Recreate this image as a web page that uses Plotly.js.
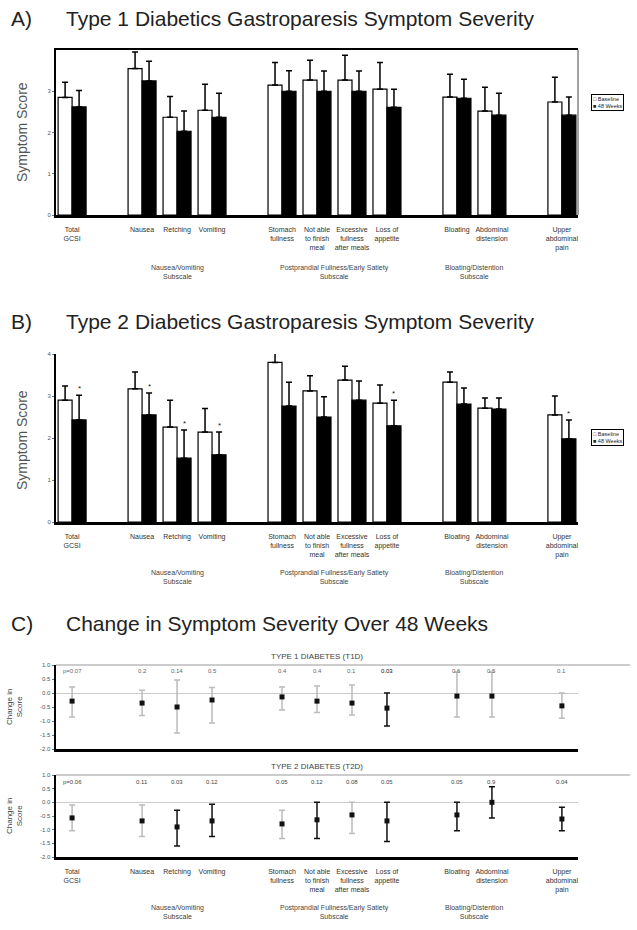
<!DOCTYPE html>
<html><head><meta charset="utf-8">
<script src="https://cdn.plot.ly/plotly-3.0.1.min.js"></script>
<style>html,body{margin:0;padding:0;background:#fff}#chart{width:637px;height:930px}</style>
</head><body><div id="chart"></div>
<script>
// ---------------- DATA ----------------
const categories = ['Total GCSI','Nausea','Retching','Vomiting','Stomach fullness','Not able to finish meal','Excessive fullness','Loss of appetite','Bloating','Abdominal distension','Upper abdominal pain'];
const tickLabels = ['Total<br>GCSI','Nausea','Retching','Vomiting','Stomach<br>fullness','Not able<br>to finish<br>meal','Excessive<br>fullness<br>after meals','Loss of<br>appetite','Bloating','Abdominal<br>distension','Upper<br>abdominal<br>pain'];
// layout slots (blank slots separate the subscale groups)
const slotOrder = ['Total GCSI','gap1','Nausea','Retching','Vomiting','gap2','Stomach fullness','Not able to finish meal','Excessive fullness','Loss of appetite','gap3','Bloating','Abdominal distension','gap4','Upper abdominal pain'];
const groupLabels = ['Nausea/Vomiting<br>Subscale','Postprandial Fullness/Early Satiety<br>Subscale','Bloating/Distention<br>Subscale'];
const seriesNames = ['Baseline','48 Weeks'];

// Panel A: Type 1 diabetics
const t1Baseline    = [2.85, 3.55, 2.37, 2.54, 3.15, 3.27, 3.27, 3.05, 2.86, 2.52, 2.74];
const t1BaselineErr = [0.37, 0.40, 0.50, 0.63, 0.55, 0.48, 0.60, 0.65, 0.55, 0.58, 0.60];
const t1Week48      = [2.62, 3.25, 2.03, 2.37, 3.00, 3.00, 3.00, 2.61, 2.83, 2.42, 2.42];
const t1Week48Err   = [0.40, 0.48, 0.49, 0.58, 0.50, 0.49, 0.49, 0.44, 0.46, 0.53, 0.44];

// Panel B: Type 2 diabetics
const t2Baseline    = [2.90, 3.17, 2.26, 2.14, 3.80, 3.12, 3.38, 2.83, 3.33, 2.71, 2.55];
const t2BaselineErr = [0.34, 0.40, 0.64, 0.56, 0.25, 0.36, 0.33, 0.43, 0.24, 0.24, 0.45];
const t2Week48      = [2.43, 2.55, 1.52, 1.60, 2.76, 2.50, 2.90, 2.29, 2.81, 2.69, 1.98];
const t2Week48Err   = [0.59, 0.52, 0.67, 0.54, 0.57, 0.48, 0.46, 0.61, 0.38, 0.26, 0.45];
const t2Significant = [1, 1, 1, 1, 0, 0, 0, 1, 0, 0, 1];

// Panel C: change over 48 weeks (estimate and interval)
const t1Change   = [-0.29, -0.36, -0.50, -0.25, -0.14, -0.29, -0.36, -0.54, -0.11, -0.11, -0.46];
const t1Low      = [-0.86, -0.80, -1.43, -1.07, -0.61, -0.70, -0.79, -1.18, -0.86, -0.86, -0.90];
const t1High     = [ 0.21,  0.10,  0.46,  0.20,  0.21,  0.25,  0.29,  0.00,  0.75,  0.75,  0.00];
const t1Emphasis = [0, 0, 0, 0, 0, 0, 0, 1, 0, 0, 0];
const t1PValues  = ['p=0.07','0.2','0.14','0.5','0.4','0.4','0.1','0.03','0.6','0.5','0.1'];

const t2Change   = [-0.57, -0.68, -0.90, -0.68, -0.79, -0.64, -0.46, -0.68, -0.46,  0.00, -0.61];
const t2Low      = [-1.04, -1.25, -1.60, -1.25, -1.32, -1.32, -1.14, -1.43, -1.04, -0.57, -1.04];
const t2High     = [-0.10, -0.10, -0.29, -0.07, -0.29,  0.00,  0.00,  0.00,  0.00,  0.57, -0.18];
const t2Emphasis = [0, 0, 1, 1, 0, 1, 0, 1, 1, 1, 1];
const t2PValues  = ['p=0.06','0.11','0.03','0.12','0.05','0.12','0.08','0.05','0.05','0.9','0.04'];

const panelTitles = ['Type 1 Diabetics Gastroparesis Symptom Severity','Type 2 Diabetics Gastroparesis Symptom Severity','Change in Symptom Severity Over 48 Weeks'];
const facetTitles = ['TYPE 1 DIABETES (T1D)','TYPE 2 DIABETES (T2D)'];

// ---------------- BUILD ----------------
const FONT = 'Liberation Sans, Arial, sans-serif';
const zeros = categories.map(() => 0);
const slotText = slotOrder.map(s => { const i = categories.indexOf(s); return i >= 0 ? tickLabels[i] : ''; });

function barTrace(name, vals, err, fill, xa, ya) {
  return {
    type: 'bar', name: name, x: categories, y: vals, xaxis: xa, yaxis: ya, showlegend: false,
    marker: {color: fill, line: {color: '#000', width: 1.2}},
    error_y: {type: 'data', symmetric: false, array: err, arrayminus: zeros, color: '#000', thickness: 1.5, width: 3},
    hoverinfo: 'skip'
  };
}
function changeTrace(vals, lows, highs, flags, want, xa, ya) {
  const idx = categories.map((c, i) => i).filter(i => flags[i] === want);
  return {
    type: 'scatter', mode: 'markers', showlegend: false, xaxis: xa, yaxis: ya,
    x: idx.map(i => categories[i]), y: idx.map(i => vals[i]),
    marker: {symbol: 'square', size: 5, color: '#111'},
    error_y: {type: 'data', symmetric: false,
      array: idx.map(i => highs[i] - vals[i]), arrayminus: idx.map(i => vals[i] - lows[i]),
      color: want ? '#111' : '#bbbbbb', thickness: 1.5, width: 3},
    hoverinfo: 'skip'
  };
}
const traces = [
  barTrace(seriesNames[0], t1Baseline, t1BaselineErr, '#ffffff', 'x', 'y'),
  barTrace(seriesNames[1], t1Week48, t1Week48Err, '#000000', 'x', 'y'),
  barTrace(seriesNames[0], t2Baseline, t2BaselineErr, '#ffffff', 'x2', 'y2'),
  barTrace(seriesNames[1], t2Week48, t2Week48Err, '#000000', 'x2', 'y2'),
  changeTrace(t1Change, t1Low, t1High, t1Emphasis, 0, 'x3', 'y3'),
  changeTrace(t1Change, t1Low, t1High, t1Emphasis, 1, 'x3', 'y3'),
  changeTrace(t2Change, t2Low, t2High, t2Emphasis, 0, 'x4', 'y4'),
  changeTrace(t2Change, t2Low, t2High, t2Emphasis, 1, 'x4', 'y4')
];

const XDOM = [56/637, 578/637];
const py = v => 1 - v/930;
function xAxis(anchor, labels, mirror) {
  return {domain: XDOM, anchor: anchor, type: 'category', categoryarray: slotOrder, tickvals: slotOrder,
    ticktext: labels ? slotText : slotOrder.map(() => ''), showticklabels: labels, range: [-0.46, 14.46],
    showline: true, linewidth: 2.5, linecolor: '#000', mirror: mirror, ticks: '', showgrid: false, zeroline: false,
    ticklabelstandoff: 6,
    tickfont: {size: 7, color: '#333', family: FONT}, fixedrange: true};
}
function yAxis(anchor, dom, range, vals, text) {
  return {domain: dom, anchor: anchor, range: range, tickvals: vals, ticktext: text, showline: true, linewidth: 2, linecolor: '#000',
    ticks: 'outside', ticklen: 2, tickcolor: '#777', showgrid: false, zeroline: false,
    tickfont: {size: 6, color: '#555', family: FONT}, fixedrange: true};
}
const cTicks = [-2, -1.5, -1, -0.5, 0, 0.5, 1];
const cTickText = ['-2.0', '-1.5', '-1.0', '-0.5', '0.0', '0.5', '1.0'];

const ann = [];
function txt(x, y, text, size, opts) {
  ann.push(Object.assign({xref: 'paper', yref: 'paper', x: x, y: y, text: text, showarrow: false,
    font: {size: size, color: '#222', family: FONT}, xanchor: 'left', yanchor: 'middle'}, opts || {}));
}
// panel titles
const TS = 21;
txt(9/637, py(18), 'A)', TS); txt(64/637, py(18), panelTitles[0], TS);
txt(9/637, py(321), 'B)', TS); txt(64/637, py(321), panelTitles[1], TS);
txt(9/637, py(623), 'C)', TS); txt(64/637, py(623), panelTitles[2], TS);
// y titles
txt(22/637, py(132), 'Symptom Score', 14, {textangle: -90, xanchor: 'center', font: {size: 14, color: '#555', family: FONT}});
txt(22/637, py(440), 'Symptom Score', 14, {textangle: -90, xanchor: 'center', font: {size: 14, color: '#555', family: FONT}});
txt(14/637, py(707), 'Change in<br>Score', 8, {textangle: -90, xanchor: 'center', font: {size: 8, color: '#444', family: FONT}});
txt(14/637, py(816), 'Change in<br>Score', 8, {textangle: -90, xanchor: 'center', font: {size: 8, color: '#444', family: FONT}});
// legends (compact boxes)
const legendText = '□ ' + seriesNames[0] + '<br>■ ' + seriesNames[1];
[[94], [429]].forEach(([yy]) => ann.push({xref: 'paper', yref: 'paper', x: 591/637, y: py(yy), xanchor: 'left', yanchor: 'top',
  text: legendText, align: 'left', showarrow: false, bgcolor: '#fff', bordercolor: '#000', borderwidth: 1, borderpad: 1,
  font: {size: 5.5, color: '#222', family: FONT}}));
// facet headers
txt(0.5*(XDOM[0]+XDOM[1]), py(656), facetTitles[0], 8, {xanchor: 'center', font: {size: 8, color: '#444', family: FONT}});
txt(0.5*(XDOM[0]+XDOM[1]), py(766), facetTitles[1], 8, {xanchor: 'center', font: {size: 8, color: '#444', family: FONT}});
// group labels under the category axes
const groupCenters = [3, 7.5, 11.5];
[['x', 272], ['x2', 577], ['x4', 912]].forEach(([xr, yy]) => {
  groupLabels.forEach((g, k) => ann.push({xref: xr, yref: 'paper', x: groupCenters[k], y: py(yy), text: g, showarrow: false,
    font: {size: 7, color: '#444', family: FONT}, xanchor: 'center', yanchor: 'middle'}));
});
// significance asterisks on the 48-week bars of panel B
categories.forEach((c, i) => {
  if (t2Significant[i]) ann.push({xref: 'x2', yref: 'y2', x: c, y: t2Week48[i] + t2Week48Err[i], text: '*', showarrow: false,
    xshift: 7, yanchor: 'bottom', font: {size: 8, color: '#222', family: FONT}});
});
// p-value labels in panel C
categories.forEach((c, i) => {
  ann.push({xref: 'x3', yref: 'y3 domain', x: c, y: 0.93, text: t1PValues[i], showarrow: false,
    font: {size: 6, color: t1Emphasis[i] ? '#111' : '#666', family: FONT}, xanchor: 'center', yanchor: 'middle'});
  ann.push({xref: 'x4', yref: 'y4 domain', x: c, y: 0.91, text: t2PValues[i], showarrow: false,
    font: {size: 6, color: '#444', family: FONT}, xanchor: 'center', yanchor: 'middle'});
});

const shapes = [
  {type: 'line', xref: 'x domain', yref: 'y domain', x0: 1, x1: 1, y0: 0, y1: 1, line: {color: '#444', width: 1}},
  {type: 'line', xref: 'x3 domain', yref: 'y3 domain', x0: 0, x1: 1.1, y0: 1, y1: 1, line: {color: '#cccccc', width: 2}},
  {type: 'line', xref: 'x4 domain', yref: 'y4 domain', x0: 0, x1: 1.1, y0: 1, y1: 1, line: {color: '#cccccc', width: 2}}
];

const layout = {
  width: 637, height: 930, margin: {l: 0, r: 0, t: 0, b: 0}, paper_bgcolor: '#fff', plot_bgcolor: '#fff',
  font: {family: FONT, color: '#222'}, showlegend: false,
  barmode: 'group', bargap: 0.2, bargroupgap: 0,
  xaxis: xAxis('y', true, true),
  yaxis: yAxis('x', [py(215), py(50)], [0, 4], [0, 1, 2, 3], ['0', '1', '2', '3']),
  xaxis2: xAxis('y2', true, false),
  yaxis2: yAxis('x2', [py(522), py(354)], [0, 4], [0, 1, 2, 3, 4], ['0', '1', '2', '3', '4']),
  xaxis3: xAxis('y3', false, false),
  yaxis3: Object.assign(yAxis('x3', [py(749), py(665)], [-2, 1], cTicks, cTickText), {zeroline: true, zerolinecolor: '#cccccc', zerolinewidth: 1, linewidth: 2.5}),
  xaxis4: xAxis('y4', true, false),
  yaxis4: Object.assign(yAxis('x4', [py(857), py(775)], [-2, 1], cTicks, cTickText), {zeroline: true, zerolinecolor: '#cccccc', zerolinewidth: 1, linewidth: 2.5}),
  annotations: ann, shapes: shapes
};

Plotly.newPlot('chart', traces, layout, {staticPlot: true, displayModeBar: false});
</script>
</body></html>
